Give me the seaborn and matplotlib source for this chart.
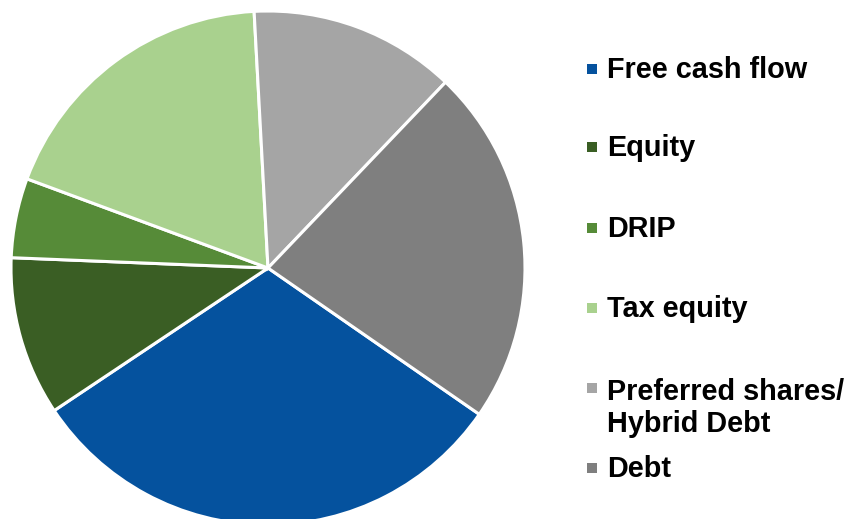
import seaborn as sns
import matplotlib.pyplot as plt
from matplotlib.patches import Rectangle

# Data
labels = ['Free cash flow', 'Equity', 'DRIP', 'Tax equity',
          'Preferred shares/\nHybrid Debt', 'Debt']
shares = [31, 10, 5, 18.5, 13, 22.5]
colors = ['#05529E', '#3A5E24', '#568B38', '#A9D18E', '#A5A5A5', '#7F7F7F']

sns.set_style("white")
plt.rcParams['font.family'] = ['Liberation Sans', 'DejaVu Sans']

fig = plt.figure(figsize=(8.5, 5.19), dpi=100)
W, H = 850, 519

# pie centred at (268, 268) px, radius 257 px
cx, cy, r = 268, 268, 257
ax = fig.add_axes([(cx - r) / W, (H - cy - r) / H, 2 * r / W, 2 * r / H])
ax.pie(shares, colors=sns.color_palette(colors), counterclock=False, startangle=-34.7,
       radius=1, wedgeprops=dict(edgecolor='white', linewidth=2.2))
ax.set_xlim(-1, 1)
ax.set_ylim(-1, 1)
ax.set_aspect('equal')
ax.axis('off')

# legend drawn by hand: marker baseline (first line) and text baseline (last line), px
mark_base = [78, 156, 237, 317, 397, 477]
text_base = [78, 156, 237, 317, 432, 477]
for lab, col, mb, tb in zip(labels, colors, mark_base, text_base):
    fig.text(607 / W, 1 - tb / H, lab, ha='left', va='baseline',
             fontsize=20.8, fontweight='bold', color='black', linespacing=1.2)
    fig.add_artist(Rectangle((587 / W, 1 - (mb - 4) / H), 10 / W, 10 / H,
                             transform=fig.transFigure, color=col, lw=0))

fig.savefig('out.png', dpi=100)
